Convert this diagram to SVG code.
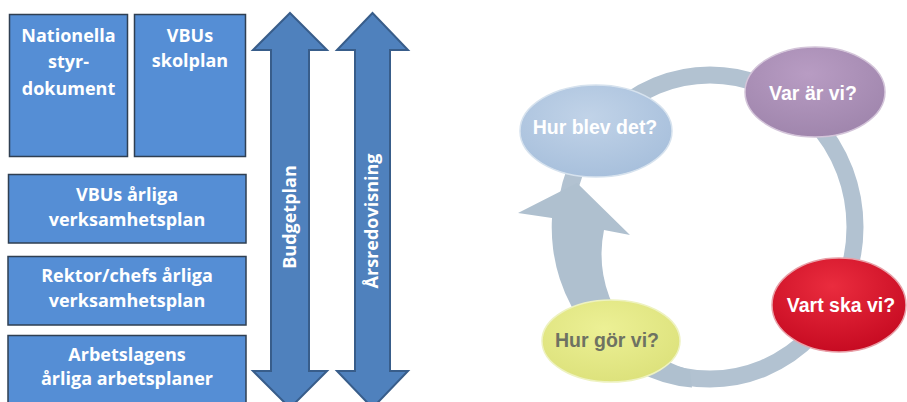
<svg xmlns="http://www.w3.org/2000/svg" width="907" height="402" viewBox="0 0 907 402">
  <style>
    .box { fill: #558ed5; stroke: #2f3f52; stroke-width: 1.5; }
    .btxt { font-family: "Open Sans", "Liberation Sans", sans-serif; font-weight: 700; font-size: 18px; fill: #ffffff; text-anchor: middle; }
    .dbl { fill: #4f81bd; stroke: #385d8a; stroke-width: 2; stroke-linejoin: miter; }
    .etxt { font-family: "Liberation Sans", Arial, sans-serif; font-weight: 700; font-size: 19.5px; text-anchor: middle; }
    .ring { fill: none; stroke: #b2c2d1; stroke-width: 17; }
    .cyc { fill: #afc0cf; }
  </style>
  <defs>
    <radialGradient id="gBlue" cx="45%" cy="35%" r="65%">
      <stop offset="0" stop-color="#c1d3e8"/>
      <stop offset="1" stop-color="#a8c0dc"/>
    </radialGradient>
    <radialGradient id="gPurple" cx="45%" cy="30%" r="70%">
      <stop offset="0" stop-color="#b89cc3"/>
      <stop offset="1" stop-color="#a086ad"/>
    </radialGradient>
    <radialGradient id="gRed" cx="45%" cy="30%" r="70%">
      <stop offset="0" stop-color="#ea2c3e"/>
      <stop offset="1" stop-color="#c70b22"/>
    </radialGradient>
    <radialGradient id="gYellow" cx="45%" cy="35%" r="65%">
      <stop offset="0" stop-color="#ecf095"/>
      <stop offset="1" stop-color="#dde27c"/>
    </radialGradient>
  </defs>
  <rect x="0" y="0" width="907" height="402" fill="#ffffff"/>

  <!-- Left boxes -->
  <g id="nationella">
    <rect class="box" x="9.5" y="14.5" width="118" height="142"/>
    <text class="btxt" x="68.5" y="42">Nationella</text>
    <text class="btxt" x="68.5" y="68">styr-</text>
    <text class="btxt" x="68.5" y="94.5">dokument</text>
  </g>
  <g id="vbus-skolplan">
    <rect class="box" x="134.5" y="14.5" width="111" height="142"/>
    <text class="btxt" x="190" y="42">VBUs</text>
    <text class="btxt" x="190" y="67">skolplan</text>
  </g>
  <g id="vbus-arliga">
    <rect class="box" x="8.5" y="174.5" width="237.5" height="68.5"/>
    <text class="btxt" x="127" y="201">VBUs årliga</text>
    <text class="btxt" x="127" y="225.5">verksamhetsplan</text>
  </g>
  <g id="rektor">
    <rect class="box" x="8" y="256.5" width="238" height="68.5"/>
    <text class="btxt" x="127" y="282">Rektor/chefs årliga</text>
    <text class="btxt" x="127" y="307">verksamhetsplan</text>
  </g>
  <g id="arbetslagens">
    <rect class="box" x="8" y="335.5" width="238" height="75"/>
    <text class="btxt" x="127" y="360.5">Arbetslagens</text>
    <text class="btxt" x="127" y="384.5">årliga arbetsplaner</text>
  </g>

  <!-- Double arrows -->
  <g id="budgetplan">
    <path class="dbl" d="M290,13 L327,50 L309,50 L309,371 L327,371 L290,408 L253,371 L271,371 L271,50 L253,50 Z"/>
    <text class="btxt" transform="translate(296,217) rotate(-90)">Budgetplan</text>
  </g>
  <g id="arsredovisning">
    <path class="dbl" d="M372.5,13 L408,50 L390,50 L390,371 L408,371 L372.5,408 L337,371 L355,371 L355,50 L337,50 Z"/>
    <text class="btxt" transform="translate(378,221) rotate(-90)">Årsredovisning</text>
  </g>

  <!-- Cycle connectors -->
  <g id="connectors">
    <ellipse class="ring" cx="710" cy="227" rx="145" ry="152"/>
    <path class="cyc" d="M692,387.5 A153.5 160.5 0 0 1 552,218 L518,213 L577,183 L630,235 L604,230 A120 120 0 0 0 690,370 Z"/>
  </g>

  <!-- Ellipse nodes -->
  <g id="hur-blev-det">
    <ellipse cx="596" cy="131" rx="76" ry="46" fill="url(#gBlue)" stroke="#d6e2ee" stroke-width="1.5"/>
    <text class="etxt" x="595" y="134" fill="#ffffff">Hur blev det?</text>
  </g>
  <g id="var-ar-vi">
    <ellipse cx="815" cy="92" rx="70" ry="45" fill="url(#gPurple)" stroke="#d3c4d9" stroke-width="1.5"/>
    <text class="etxt" x="813" y="100" fill="#ffffff">Var är vi?</text>
  </g>
  <g id="vart-ska-vi">
    <ellipse cx="839" cy="305" rx="67" ry="47" fill="url(#gRed)" stroke="#e8a0a8" stroke-width="1.5"/>
    <text class="etxt" x="841" y="312" fill="#ffffff">Vart ska vi?</text>
  </g>
  <g id="hur-gor-vi">
    <ellipse cx="611" cy="341" rx="69" ry="41" fill="url(#gYellow)" stroke="#eef2c0" stroke-width="1.5"/>
    <text class="etxt" x="607" y="347" fill="#6e7262">Hur gör vi?</text>
  </g>
</svg>
